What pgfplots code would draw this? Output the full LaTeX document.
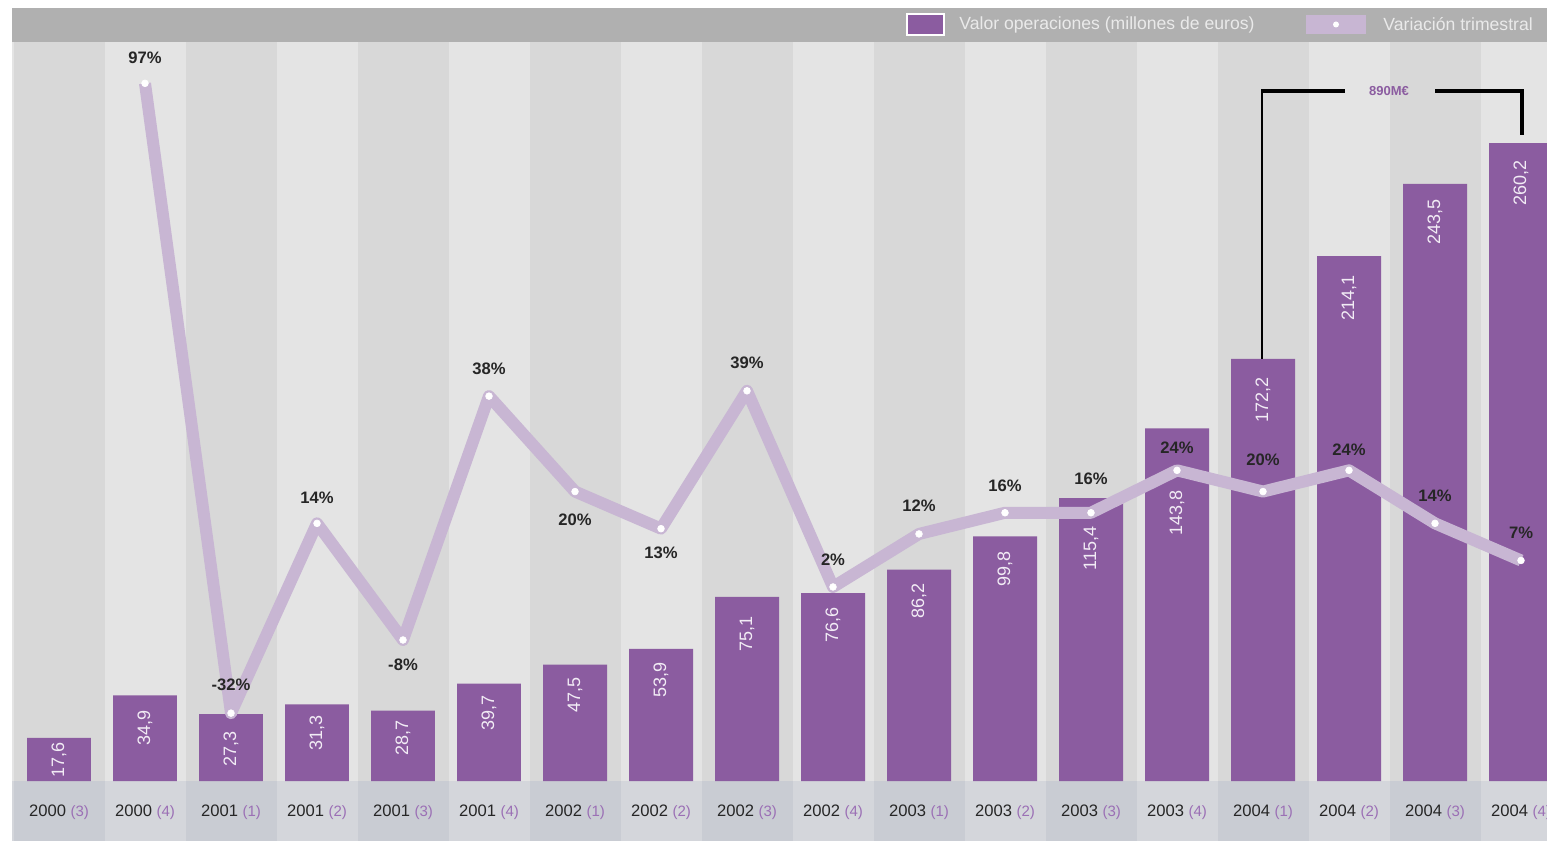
\documentclass[border=0pt]{standalone}
\usepackage{pgfplots}
\pgfplotsset{compat=1.18}
\usepackage{fontspec}
\setmainfont{Liberation Sans}
\definecolor{barpurple}{HTML}{8B5CA0}
\definecolor{lav}{HTML}{C8B6D3}
\definecolor{darkstripe}{HTML}{D8D8D8}
\definecolor{lightstripe}{HTML}{E4E4E4}
\definecolor{topband}{HTML}{B0B0B0}
\definecolor{botdark}{HTML}{C9CCD3}
\definecolor{botlight}{HTML}{D4D6DB}
\definecolor{labpurple}{HTML}{9B6FB5}
\definecolor{legtext}{HTML}{EAEAEA}
\definecolor{barlab}{HTML}{F2ECF5}
\pgfplotstableread{
x y off
1 17.6 2
2 34.9 7.5
3 27.3 8.5
4 31.3 5.5
5 28.7 4.5
6 39.7 5.5
7 47.5 6.5
8 53.9 6.5
9 75.1 9.5
10 76.6 7
11 86.2 6.5
12 99.8 7.5
13 115.4 14
14 143.8 31
15 172.2 9
16 214.1 9.5
17 243.5 7.5
18 260.2 8.5
}\bars
\pgfplotstableread{
x p
2 97
3 -21.8
4 14
5 -8
6 38
7 20
8 13
9 39
10 2
11 12
12 16
13 16
14 24
15 20
16 24
17 14
18 7
}\var
\begin{document}
\begin{tikzpicture}[x=1pt,y=1pt]
\useasboundingbox (0,0) rectangle (773.5,420.5);
\clip (0,0) rectangle (773.5,420.5);
\fill[white] (0,0) rectangle (773.5,420.5);
% plot background stripes
\fill[lightstripe] (6,30) rectangle (773.5,399.5);
\fill[botlight] (6,0) rectangle (773.5,30);
\foreach \i in {1,3,...,17}{
  \pgfmathsetmacro\c{29.5+43*(\i-1)}
  \pgfmathsetmacro\l{max(6,\c-22.75)}
  \fill[darkstripe] (\l,30) rectangle (\c+22.75,399.5);
  \fill[botdark] (\l,0) rectangle (\c+22.75,30);
}
% top band
\fill[topband] (6,399.5) rectangle (773.5,416.5);

\begin{axis}[at={(6pt,30pt)}, anchor=south west, scale only axis,
  width=767.5pt, height=369.5pt,
  xmin=0.45349, xmax=18.3023, ymin=0, ymax=301.4,
  axis lines=none, ticks=none,
  ybar, bar width=0.744,
  visualization depends on={\thisrow{off} \as \off},
  nodes near coords={\rotatebox{90}{\pgfmathprintnumber[assume math mode=true,use comma,fixed,precision=1,fixed zerofill]{\pgfplotspointmeta}}},
  every node near coord/.append style={anchor=north, yshift=-\off pt, text=barlab,
     font=\fontsize{9}{10}\selectfont, inner sep=0pt},
]
\addplot[fill=barpurple, draw=none] table[x=x, y=y] {\bars};
\end{axis}

\begin{axis}[at={(6pt,30pt)}, anchor=south west, scale only axis,
  width=767.5pt, height=369.5pt,
  xmin=0.45349, xmax=18.3023, ymin=-34.6, ymax=104.8,
  axis lines=none, ticks=none, clip=false]
\addplot[line width=6pt, color=lav, line join=round, no marks] table[x=x, y=p] {\var};
\addplot[only marks, mark=*, mark size=1.7pt, draw=white, fill=white, line width=0.3pt] table[x=x, y=p] {\var};
\tikzset{pl/.style={font=\bfseries\fontsize{8.3}{10}\selectfont, text=black!85}}
\node[pl,yshift=13pt] at (axis cs:2,97) {97\%};
\node[pl,yshift=14pt] at (axis cs:3,-21.8) {-32\%};
\node[pl,yshift=13pt] at (axis cs:4,14) {14\%};
\node[pl,yshift=-12.5pt] at (axis cs:5,-8) {-8\%};
\node[pl,yshift=13.5pt] at (axis cs:6,38) {38\%};
\node[pl,yshift=-14pt] at (axis cs:7,20) {20\%};
\node[pl,yshift=-12pt] at (axis cs:8,13) {13\%};
\node[pl,yshift=14pt] at (axis cs:9,39) {39\%};
\node[pl,yshift=13.5pt] at (axis cs:10,2) {2\%};
\node[pl,yshift=14pt] at (axis cs:11,12) {12\%};
\node[pl,yshift=13.5pt] at (axis cs:12,16) {16\%};
\node[pl,yshift=17pt] at (axis cs:13,16) {16\%};
\node[pl,yshift=11.5pt] at (axis cs:14,24) {24\%};
\node[pl,yshift=16pt] at (axis cs:15,20) {20\%};
\node[pl,yshift=10.5pt] at (axis cs:16,24) {24\%};
\node[pl,yshift=14pt] at (axis cs:17,14) {14\%};
\node[pl,yshift=14pt] at (axis cs:18,7) {7\%};
\end{axis}

% bracket annotation
\draw[line width=0.8pt] (631,375) -- (631,241);
\draw[line width=2pt] (630.6,375) -- (672.5,375);
\draw[line width=2pt] (717.5,375) -- (761,375) -- (761,353);
\node[font=\bfseries\fontsize{6.5}{8}\selectfont, text=barpurple] at (694.5,375) {890M€};

% legend
\fill[white] (453.2,402.7) rectangle (472.3,413.8);
\fill[barpurple] (454,403.5) rectangle (471.5,413);
\node[anchor=west, text=legtext, font=\fontsize{8.8}{10}\selectfont, inner sep=0pt] at (479.5,408.25) {Valor operaciones (millones de euros)};
\fill[lav] (653,403.5) rectangle (683,413);
\fill[white] (668,408.25) circle (1.5);
\node[anchor=west, text=legtext, font=\fontsize{8.8}{10}\selectfont, inner sep=0pt] at (691.5,408.25) {Variación trimestral};

% category labels
\foreach \i/\y/\q in {1/2000/3, 2/2000/4, 3/2001/1, 4/2001/2, 5/2001/3, 6/2001/4,
  7/2002/1, 8/2002/2, 9/2002/3, 10/2002/4, 11/2003/1, 12/2003/2, 13/2003/3, 14/2003/4,
  15/2004/1, 16/2004/2, 17/2004/3, 18/2004/4}{
  \pgfmathsetmacro\c{29.5+43*(\i-1)}
  \node[font=\fontsize{8.3}{10}\selectfont, text=black!85] at (\c,14.5) {\y\ \textcolor{labpurple}{\fontsize{7.5}{9}\selectfont(\q)}};
}
\end{tikzpicture}
\end{document}
